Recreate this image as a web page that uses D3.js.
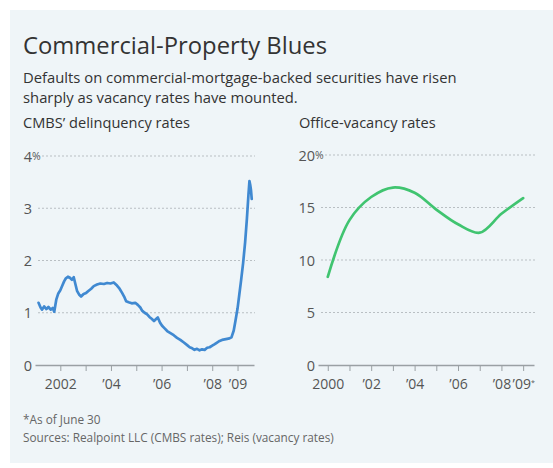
<!DOCTYPE html>
<html><head><meta charset="utf-8">
<script src="https://cdn.jsdelivr.net/npm/d3@7"></script>
<style>
html,body{margin:0;padding:0;background:#fff;}
svg{display:block;}
text{font-family:"Open Sans",sans-serif;}
</style></head>
<body>
<svg id="chart" width="553" height="468"></svg>
<script>
// ---------- data ----------
const title = "Commercial-Property Blues";
const subtitleLines = ["Defaults on commercial-mortgage-backed securities have risen",
                       "sharply as vacancy rates have mounted."];
const leftLabel = "CMBS\u2019 delinquency rates";
const rightLabel = "Office-vacancy rates";
const footnote = "*As of June 30";
const sources = "Sources: Realpoint LLC (CMBS rates); Reis (vacancy rates)";

const cmbsYears = [2001.14,2001.22,2001.28,2001.36,2001.45,2001.53,2001.62,2001.70,2001.76,2001.84,2001.92,
 2002.00,2002.08,2002.15,2002.22,2002.30,2002.38,2002.46,2002.53,2002.58,2002.66,2002.74,2002.82,2002.92,
 2003.02,2003.12,2003.22,2003.32,2003.45,2003.58,2003.72,2003.85,2003.98,
 2004.11,2004.24,2004.34,2004.44,2004.52,2004.60,2004.70,2004.82,2004.96,
 2005.06,2005.16,2005.23,2005.33,2005.43,2005.52,2005.62,2005.70,2005.78,2005.85,2005.94,
 2006.02,2006.12,2006.22,2006.35,2006.48,2006.61,2006.74,2006.88,
 2007.01,2007.11,2007.21,2007.30,2007.40,2007.50,2007.60,2007.70,2007.80,2007.90,
 2008.00,2008.10,2008.19,2008.29,2008.39,2008.49,2008.59,2008.68,2008.76,2008.85,2008.92,
 2009.00,2009.07,2009.14,2009.22,2009.30,2009.37,2009.43,2009.47,2009.50,2009.53,2009.56];
const cmbsRates = [1.19,1.10,1.06,1.12,1.07,1.11,1.06,1.09,1.02,1.25,1.37,
 1.43,1.52,1.60,1.66,1.69,1.67,1.63,1.68,1.58,1.42,1.35,1.31,1.36,
 1.38,1.42,1.46,1.51,1.54,1.56,1.55,1.57,1.56,
 1.58,1.52,1.46,1.38,1.31,1.22,1.20,1.18,1.19,
 1.15,1.10,1.04,1.00,0.97,0.92,0.88,0.84,0.88,0.91,0.81,
 0.75,0.70,0.65,0.61,0.57,0.52,0.48,0.43,
 0.38,0.34,0.32,0.29,0.31,0.28,0.30,0.29,0.33,0.34,
 0.37,0.40,0.43,0.46,0.48,0.49,0.50,0.51,0.53,0.66,0.85,
 1.08,1.35,1.62,1.95,2.35,2.80,3.25,3.52,3.45,3.35,3.18];

const vacancyYears = [2000,2001,2002,2003,2004,2005,2006,2007,2008,2009];
const vacancyRates = [8.4,13.8,16.0,16.9,16.4,14.8,13.4,12.6,14.4,15.9];

const leftYTicks = [0,1,2,3,4];
const rightYTicks = [0,5,10,15,20];
const leftXTicks = [2002,2003,2004,2005,2006,2007,2008,2009];
const leftXLabels = {2002:"2002",2004:"\u201904",2006:"\u201906",2008:"\u201908",2009:"\u201909"};
const rightXTicks = [2000,2001,2002,2003,2004,2005,2006,2007,2008,2009];
const rightXLabels = {2000:"2000",2002:"\u201902",2004:"\u201904",2006:"\u201906",2008:"\u201908",2009:"\u201909"};

// ---------- drawing ----------
const svg = d3.select("#chart");
svg.append("rect").attr("x",10).attr("y",10).attr("width",543).attr("height",453).attr("fill","#eff5f8");

svg.append("text").attr("x",23).attr("y",54).attr("font-size",23.8).attr("font-weight",500).attr("fill","#333").text(title);
subtitleLines.forEach((s,i)=>svg.append("text").attr("x",23).attr("y",83+i*19.5).attr("font-size",14.8).attr("fill","#333").text(s));
svg.append("text").attr("x",23).attr("y",128).attr("font-size",14.6).attr("fill","#333").text(leftLabel);
svg.append("text").attr("x",299).attr("y",128).attr("font-size",14.6).attr("fill","#333").text(rightLabel);
svg.append("text").attr("x",23).attr("y",424).attr("font-size",11.8).attr("fill","#666").text(footnote);
svg.append("text").attr("x",23).attr("y",442).attr("font-size",11.8).attr("fill","#666").text(sources);

function panel(opts){
  const x = d3.scaleLinear().domain(opts.xDomain).range(opts.xRange);
  const y = d3.scaleLinear().domain(opts.yDomain).range([365, opts.yTop]);
  const g = svg.append("g");
  // gridlines
  g.selectAll(".grid").data(opts.yTicks.filter(d=>d>0)).enter().append("line")
    .attr("x1",opts.xRange[0]+3).attr("x2",opts.xRange[1]+1)
    .attr("y1",d=>y(d)).attr("y2",d=>y(d))
    .attr("stroke","#b9bfc3").attr("stroke-width",1).attr("stroke-dasharray","2,2");
  // y axis labels
  const ya = g.append("g").attr("transform",`translate(${opts.yLabelX},0)`)
    .call(d3.axisLeft(y).tickValues(opts.yTicks).tickSize(0).tickPadding(0).tickFormat(d=>d));
  ya.select(".domain").remove();
  ya.selectAll("text").attr("font-size",14.5).attr("fill","#555").attr("font-family","'Open Sans',sans-serif").attr("dy","0.35em");
  g.append("text").attr("x",opts.yLabelX).attr("y",y(opts.yTicks[opts.yTicks.length-1])).attr("dy","0.35em")
    .attr("font-size",10.5).attr("fill","#555").text("%");
  // x axis
  const xa = g.append("g").attr("transform","translate(0,365)")
    .call(d3.axisBottom(x).tickValues(opts.xTicks).tickSize(6).tickSizeOuter(0).tickPadding(8)
      .tickFormat(d=>opts.xLabels[d]||""));
  xa.select(".domain").attr("stroke","#9aa0a4").attr("stroke-width",1.5);
  xa.selectAll(".tick line").attr("stroke","#9aa0a4").attr("stroke-width",1);
  xa.selectAll("text").attr("font-size",14).attr("fill","#555").attr("font-family","'Open Sans',sans-serif");
  if (opts.star){
    xa.selectAll(".tick").filter(d=>d===opts.star).select("text")
      .append("tspan").attr("font-size",7).attr("dy","-0.6em").text("*");
  }
  // line
  const data = opts.xs.map((v,i)=>[v,opts.ys[i]]);
  g.append("path").datum(data)
    .attr("d", d3.line().x(d=>x(d[0])).y(d=>y(d[1])).curve(opts.curve))
    .attr("fill","none").attr("stroke",opts.color).attr("stroke-width",2.7)
    .attr("stroke-linejoin","round").attr("stroke-linecap","round");
}

panel({xDomain:[2001.0,2009.65], xRange:[35,254], yDomain:[0,4], yTop:156, yTicks:leftYTicks,
  xTicks:leftXTicks, xLabels:leftXLabels, yLabelX:32, xs:cmbsYears, ys:cmbsRates,
  color:"#4089d1", curve:d3.curveLinear});
panel({xDomain:[1999.55,2009.5], xRange:[318,534], yDomain:[0,20], yTop:155, yTicks:rightYTicks,
  xTicks:rightXTicks, xLabels:rightXLabels, yLabelX:315, xs:vacancyYears, ys:vacancyRates,
  color:"#40c470", curve:d3.curveCatmullRom.alpha(0.5), star:2009});
</script>
</body></html>
